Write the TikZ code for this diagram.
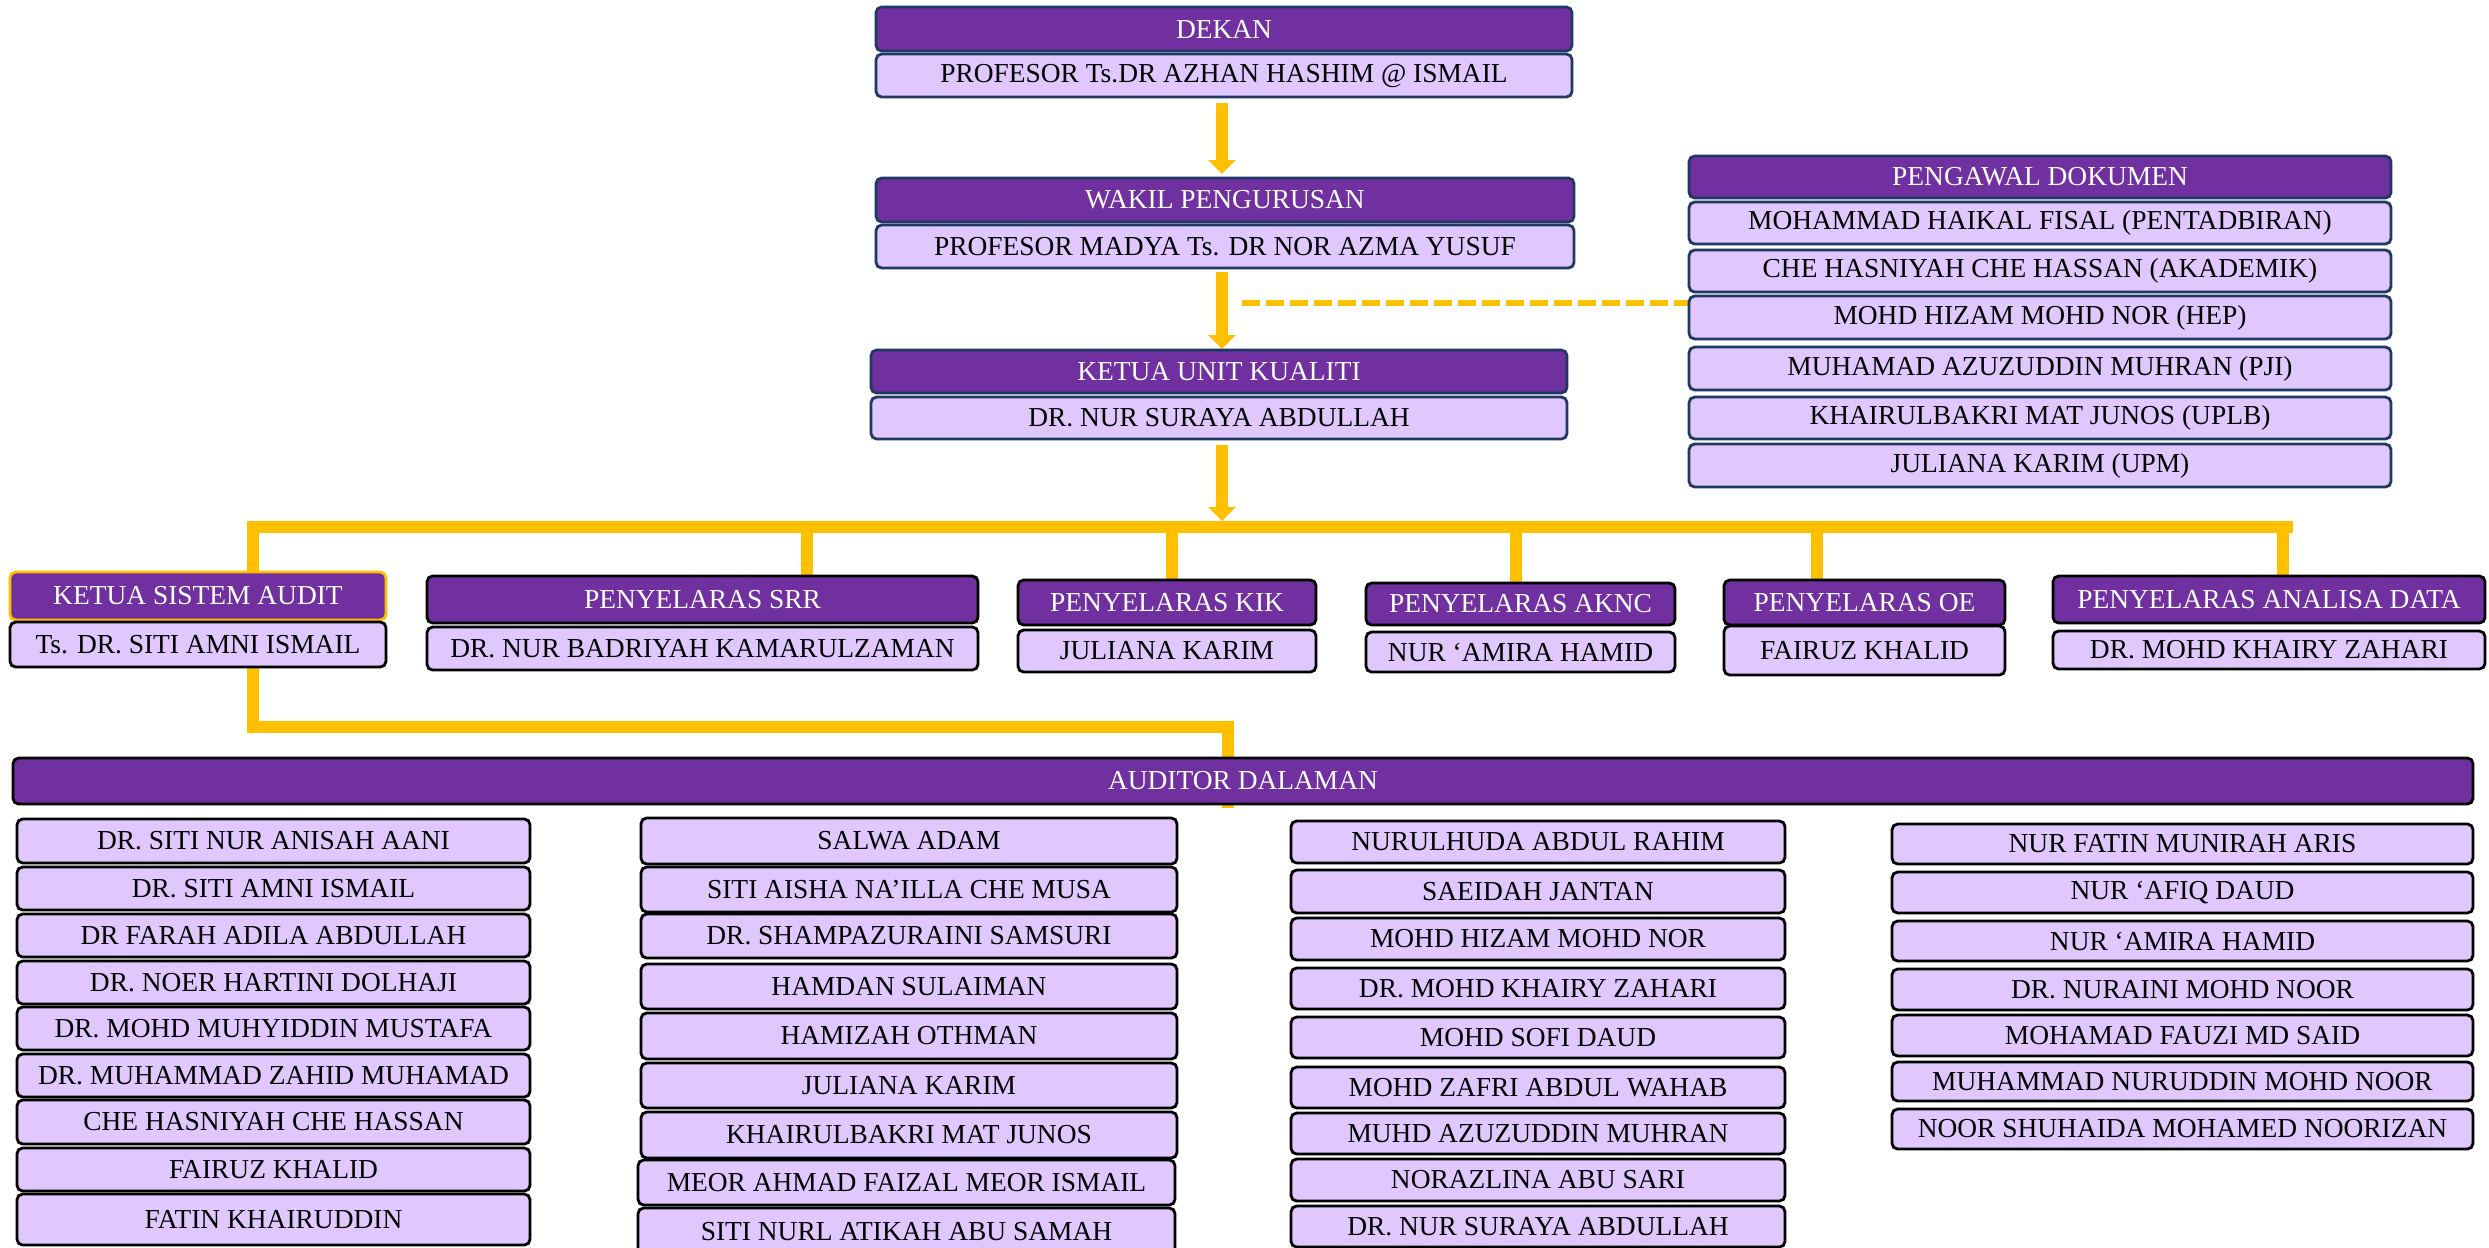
\documentclass[tikz,border=0pt]{standalone}
\usepackage{fontspec}
\setmainfont{Liberation Serif}
\usetikzlibrary{arrows.meta,backgrounds,calc}
\definecolor{purp}{HTML}{7030A0}
\definecolor{lav}{HTML}{E0C7FE}
\definecolor{navy}{HTML}{1F3864}
\definecolor{gold}{HTML}{FFC000}
\tikzset{
 box/.style={rectangle, rounded corners=1.6pt, line width=0.8pt, inner sep=0pt, outer sep=0pt, align=center, font=\fontsize{7.8}{9}\selectfont},
 hdrN/.style={box, fill=purp, draw=navy, text=white},
 namN/.style={box, fill=lav, draw=navy, text=black},
 hdrK/.style={box, fill=purp, draw=black, text=white},
 namK/.style={box, fill=lav, draw=black, text=black},
 hdrG/.style={box, fill=purp, draw=gold, text=white},
 link/.style={draw=gold, line width=0.12cm},
 arr/.style={link, -{Triangle[width=0.27cm,length=0.14cm]}},
 dashlink/.style={draw=gold, line width=0.055cm, dash pattern=on 0.18cm off 0.06cm},
}
% style, name, x1, y1, x2, y2, text
\newcommand\obox[7]{\node[#1, minimum width={(#5-#3)*0.01cm}, minimum height={(#6-#4)*0.01cm}] (#2) at ({(#3+#5)/2},{(#4+#6)/2+1}) {#7};}
\begin{document}
\begin{tikzpicture}[x=0.01cm,y=-0.01cm]
\useasboundingbox (0,0) rectangle (2489,1247);
\begin{scope}[on background layer]
\fill[white] (0,0) rectangle (2489,1247);
\end{scope}
% top chain
\obox{hdrN}{dekH}{876}{6}{1572}{50}{DEKAN}
\obox{namN}{dekN}{876}{53}{1572}{96}{PROFESOR Ts.DR AZHAN HASHIM @ ISMAIL}
\obox{hdrN}{wakH}{876}{177}{1574}{221}{WAKIL PENGURUSAN}
\obox{namN}{wakN}{876}{224}{1574}{267}{PROFESOR MADYA Ts. DR NOR AZMA YUSUF}
\obox{hdrN}{kuH}{871}{349}{1567}{392}{KETUA UNIT KUALITI}
\obox{namN}{kuN}{871}{396}{1567}{438}{DR. NUR SURAYA ABDULLAH}
% pengawal dokumen
\obox{hdrN}{pgH}{1689}{155}{2391}{197}{PENGAWAL DOKUMEN}
\obox{namN}{pg1}{1689}{201}{2391}{243}{MOHAMMAD HAIKAL FISAL (PENTADBIRAN)}
\obox{namN}{pg2}{1689}{249}{2391}{291}{CHE HASNIYAH CHE HASSAN (AKADEMIK)}
\obox{namN}{pg3}{1689}{295}{2391}{338}{MOHD HIZAM MOHD NOR (HEP)}
\obox{namN}{pg4}{1689}{346}{2391}{389}{MUHAMAD AZUZUDDIN MUHRAN (PJI)}
\obox{namN}{pg5}{1689}{396}{2391}{438}{KHAIRULBAKRI MAT JUNOS (UPLB)}
\obox{namN}{pg6}{1689}{443}{2391}{486}{JULIANA KARIM (UPM)}
% row 2
\obox{hdrG}{ksaH}{10}{571}{386}{619}{KETUA SISTEM AUDIT}
\obox{namK}{ksaN}{10}{621}{386}{666}{Ts. DR. SITI AMNI ISMAIL}
\obox{hdrK}{srrH}{427}{575}{978}{622}{PENYELARAS SRR}
\obox{namK}{srrN}{427}{626}{978}{669}{DR. NUR BADRIYAH KAMARULZAMAN}
\obox{hdrK}{kikH}{1018}{579}{1316}{624}{PENYELARAS KIK}
\obox{namK}{kikN}{1018}{629}{1316}{671}{JULIANA KARIM}
\obox{hdrK}{akH}{1366}{582}{1675}{624}{PENYELARAS AKNC}
\obox{namK}{akN}{1366}{631}{1675}{671}{NUR ‘AMIRA HAMID}
\obox{hdrK}{oeH}{1724}{579}{2005}{624}{PENYELARAS OE}
\obox{namK}{oeN}{1724}{625}{2005}{674}{FAIRUZ KHALID}
\obox{hdrK}{adH}{2053}{575}{2485}{622}{PENYELARAS ANALISA DATA}
\obox{namK}{adN}{2053}{630}{2485}{668}{DR. MOHD KHAIRY ZAHARI}
% auditor dalaman
\obox{hdrK}{audH}{13}{757}{2473}{803}{AUDITOR DALAMAN}
\foreach \a/\b/\t [count=\i] in {818/862/{DR. SITI NUR ANISAH AANI},866/909/{DR. SITI AMNI ISMAIL},913/956/{DR FARAH ADILA ABDULLAH},960/1003/{DR. NOER HARTINI DOLHAJI},1006/1049/{DR. MOHD MUHYIDDIN MUSTAFA},1053/1096/{DR. MUHAMMAD ZAHID MUHAMAD},1099/1143/{CHE HASNIYAH CHE HASSAN},1147/1190/{FAIRUZ KHALID},1193/1244/{FATIN KHAIRUDDIN}}
  {\obox{namK}{ca\i}{17}{\a}{530}{\b}{\t}}
\foreach \a/\b/\t [count=\i] in {817/863/{SALWA ADAM},866/911/{SITI AISHA NA’ILLA CHE MUSA},913/957/{DR. SHAMPAZURAINI SAMSURI},963/1008/{HAMDAN SULAIMAN},1012/1058/{HAMIZAH OTHMAN},1062/1107/{JULIANA KARIM},1111/1157/{KHAIRULBAKRI MAT JUNOS}}
  {\obox{namK}{cb\i}{641}{\a}{1177}{\b}{\t}}
\obox{namK}{cb8}{638}{1159}{1175}{1204}{MEOR AHMAD FAIZAL MEOR ISMAIL}
\obox{namK}{cb9}{638}{1207}{1175}{1255}{SITI NURL ATIKAH ABU SAMAH}
\foreach \a/\b/\t [count=\i] in {820/862/{NURULHUDA ABDUL RAHIM},869/912/{SAEIDAH JANTAN},917/959/{MOHD HIZAM MOHD NOR},967/1008/{DR. MOHD KHAIRY ZAHARI},1016/1057/{MOHD SOFI DAUD},1066/1107/{MOHD ZAFRI ABDUL WAHAB},1112/1153/{MUHD AZUZUDDIN MUHRAN},1158/1200/{NORAZLINA ABU SARI},1205/1246/{DR. NUR SURAYA ABDULLAH}}
  {\obox{namK}{cc\i}{1291}{\a}{1785}{\b}{\t}}
\foreach \a/\b/\t [count=\i] in {823/863/{NUR FATIN MUNIRAH ARIS},871/912/{NUR ‘AFIQ DAUD},920/960/{NUR ‘AMIRA HAMID},968/1009/{DR. NURAINI MOHD NOOR},1014/1055/{MOHAMAD FAUZI MD SAID},1061/1100/{MUHAMMAD NURUDDIN MOHD NOOR},1108/1148/{NOOR SHUHAIDA MOHAMED NOORIZAN}}
  {\obox{namK}{cd\i}{1892}{\a}{2473}{\b}{\t}}
% connectors
\coordinate (barL) at (253,527);
\coordinate (barR) at (2293,527);
\coordinate (low) at (1228,727);
\coordinate (lowEnd) at (1228,808);
\coordinate (ds) at (1242,303);
\begin{scope}[on background layer]
\draw[arr] ($(dekN.south -| 1222,0)+(0,6)$) -- ($(wakH.north -| 1222,0)+(0,-4)$);
\draw[arr] ($(wakN.south -| 1222,0)+(0,4)$) -- ($(kuH.north -| 1222,0)+(0,-1)$);
\draw[arr] ($(kuN.south -| 1222,0)+(0,6)$) -- (1222,521);
\draw[dashlink] (ds) -- (pg3.west |- ds);
\draw[link] (ksaH.north -| barL) |- (barR);
\foreach \n/\x in {srrH/807,kikH/1172,akH/1516,oeH/1817,adH/2283}
  \draw[link] (\n.north -| \x,0) -- (\x,527);
\draw[link] (ksaN.south -| barL) |- (low) -- (lowEnd);
\end{scope}
\end{tikzpicture}
\end{document}
